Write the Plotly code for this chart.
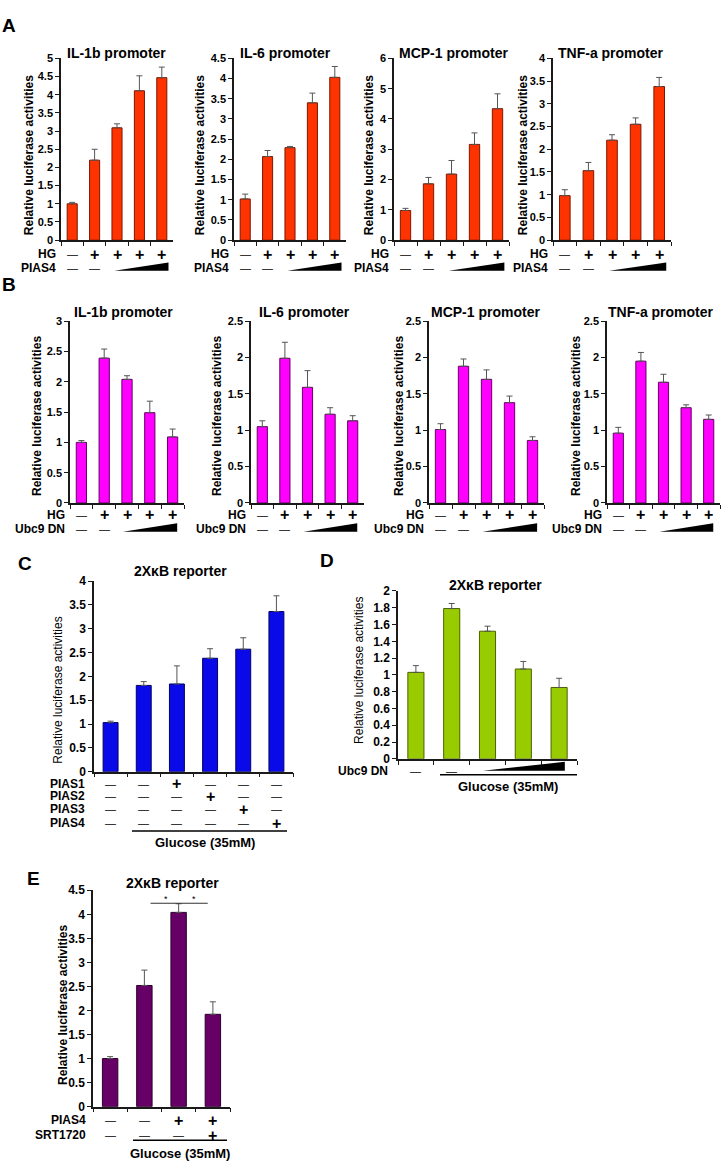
import plotly.graph_objects as go

W, H = 722, 1167

# ---------------- data ----------------
cats5 = ["1", "2", "3", "4", "5"]
cats6 = ["1", "2", "3", "4", "5", "6"]
cats4 = ["1", "2", "3", "4"]

A_titles = ["IL-1b promoter", "IL-6 promoter", "MCP-1 promoter", "TNF-a promoter"]
A_il1b = [1.00, 2.20, 3.09, 4.11, 4.47]
A_il1b_err = [0.04, 0.30, 0.11, 0.41, 0.29]
A_il6 = [1.02, 2.07, 2.29, 3.40, 4.03]
A_il6_err = [0.12, 0.15, 0.03, 0.24, 0.27]
A_mcp1 = [0.98, 1.86, 2.18, 3.16, 4.34]
A_mcp1_err = [0.07, 0.21, 0.45, 0.38, 0.49]
A_tnfa = [0.98, 1.53, 2.20, 2.55, 3.38]
A_tnfa_err = [0.13, 0.18, 0.12, 0.14, 0.20]
A_ymax = [5, 4.5, 6, 4]
A_dtick = [0.5, 0.5, 1, 0.5]

B_titles = ["IL-1b promoter", "IL-6 promoter", "MCP-1 promoter", "TNF-a promoter"]
B_il1b = [1.00, 2.39, 2.04, 1.49, 1.09]
B_il1b_err = [0.03, 0.15, 0.06, 0.19, 0.13]
B_il6 = [1.05, 1.99, 1.59, 1.22, 1.13]
B_il6_err = [0.08, 0.22, 0.23, 0.09, 0.07]
B_mcp1 = [1.01, 1.88, 1.70, 1.38, 0.86]
B_mcp1_err = [0.08, 0.10, 0.13, 0.09, 0.05]
B_tnfa = [0.96, 1.95, 1.66, 1.31, 1.15]
B_tnfa_err = [0.08, 0.12, 0.11, 0.04, 0.06]
B_ymax = [3, 2.5, 2.5, 2.5]
B_dtick = [0.5, 0.5, 0.5, 0.5]

HG_signs = ["—", "+", "+", "+", "+"]
dose_signs = ["—", "—", "", "", ""]

C_title = "2XκB reporter"
C_vals = [1.03, 1.81, 1.84, 2.38, 2.57, 3.36]
C_err = [0.03, 0.08, 0.38, 0.20, 0.24, 0.33]
C_rows = ["PIAS1", "PIAS2", "PIAS3", "PIAS4"]
C_signs = [["—", "—", "+", "—", "—", "—"],
           ["—", "—", "—", "+", "—", "—"],
           ["—", "—", "—", "—", "+", "—"],
           ["—", "—", "—", "—", "—", "+"]]

D_title = "2XκB reporter"
D_vals = [1.03, 1.79, 1.52, 1.07, 0.85]
D_err = [0.08, 0.06, 0.06, 0.09, 0.11]
D_signs = ["—", "—", "", "", ""]

E_title = "2XκB reporter"
E_vals = [1.00, 2.52, 4.04, 1.92]
E_err = [0.04, 0.32, 0.18, 0.26]
E_rows = ["PIAS4", "SRT1720"]
E_signs = [["—", "—", "+", "+"],
           ["—", "—", "—", "+"]]

glucose_label = "Glucose (35mM)"
ytitle = "Relative luciferase activities"

# ---------------- helpers ----------------
FONT = "Liberation Sans, Arial, sans-serif"
AXC = "#1a1a1a"
fig = go.Figure()
annotations = []
shapes = []


def px_x(p):
    return p / W


def px_y(p):
    return 1 - p / H


def names(i):
    s = "" if i == 1 else str(i)
    return "x" + s, "y" + s, "xaxis" + s, "yaxis" + s


def text(x, y, t, size=12, bold=True, xanchor="center", xref="paper", yref="paper", angle=0):
    annotations.append(dict(
        x=x, y=y, xref=xref, yref=yref, text=t, showarrow=False,
        xanchor=xanchor, yanchor="middle", textangle=angle,
        font=dict(family=FONT, size=size, color="black",
                  weight="bold" if bold else "normal")))


def add_panel(i, cats, vals, errs, box, ymax, dtick, fill, edge, tsize=11):
    xr, yr, xk, yk = names(i)
    x0, x1, ytop, ybot = box
    fig.add_trace(go.Bar(
        x=cats, y=vals, xaxis=xr, yaxis=yr, width=0.45,
        marker=dict(color=fill, line=dict(color=edge, width=1)),
        error_y=dict(type="data", symmetric=False, array=errs,
                     arrayminus=[0] * len(errs), color="#555555",
                     thickness=1, width=3),
        showlegend=False, hoverinfo="skip"))
    fig.update_layout(**{
        xk: dict(domain=[px_x(x0), px_x(x1)], anchor=yr, type="category",
                 range=[-0.5, len(cats) - 0.5], showline=True, linecolor=AXC,
                 linewidth=1.5, ticks="outside", tickson="boundaries",
                 ticklen=4, tickcolor=AXC, tickwidth=1.2,
                 showticklabels=False, showgrid=False, zeroline=False,
                 fixedrange=True),
        yk: dict(domain=[px_y(ybot), px_y(ytop)], anchor=xr,
                 range=[0, ymax], dtick=dtick, tick0=0, showline=True,
                 linecolor=AXC, linewidth=1.5, ticks="outside", ticklen=4,
                 tickcolor=AXC, tickwidth=1.2, showgrid=False, zeroline=False,
                 tickfont=dict(family=FONT, size=tsize, color="black",
                               weight="bold"),
                 fixedrange=True),
    })


def add_row(i, cats, label, signs, y_px, label_right):
    xr = names(i)[0]
    text(px_x(label_right), px_y(y_px), label, size=12, xanchor="right")
    for k, s in enumerate(signs):
        if not s:
            continue
        if s == "+":
            text(k, px_y(y_px), "+", size=16, bold=True, xref=xr)
        else:
            text(k, px_y(y_px), "—", size=11, bold=False, xref=xr)


def add_ramp(i, c0, c1, y_bot, y_top):
    xr = names(i)[0]
    shapes.append(dict(
        type="path", xref=xr, yref="paper",
        path=f"M {c0},{px_y(y_bot)} L {c1},{px_y(y_bot)} L {c1},{px_y(y_top)} Z",
        fillcolor="black", line=dict(width=0)))


def hline(x0, x1, y, width=1.5):
    shapes.append(dict(type="line", xref="paper", yref="paper",
                       x0=px_x(x0), x1=px_x(x1), y0=px_y(y), y1=px_y(y),
                       line=dict(color="black", width=width)))


# ---------------- panel A ----------------
A_vals = [A_il1b, A_il6, A_mcp1, A_tnfa]
A_errs = [A_il1b_err, A_il6_err, A_mcp1_err, A_tnfa_err]
A_boxes = [(61, 173, 52, 236), (234, 346, 52, 236), (394, 509, 52, 236), (553, 671, 52, 236)]
A_tx = [116, 285, 453, 611]
A_yx = [29, 200, 369, 523]
for k in range(4):
    i = k + 1
    add_panel(i, cats5, A_vals[k], A_errs[k], A_boxes[k], A_ymax[k], A_dtick[k],
              "#FF3300", "#7a1800")
    text(px_x(A_tx[k]), px_y(47), A_titles[k], size=14)
    text(px_x(A_yx[k]), px_y(150), ytitle, size=12, angle=-90)
    ax = A_boxes[k][0]
    add_row(i, cats5, "HG", HG_signs, 250, ax - 3)
    add_row(i, cats5, "PIAS4", dose_signs, 264, ax - 3)
    add_ramp(i, 1.88, 4.3, 267, 258.5)

# ---------------- panel B ----------------
B_vals = [B_il1b, B_il6, B_mcp1, B_tnfa]
B_errs = [B_il1b_err, B_il6_err, B_mcp1_err, B_tnfa_err]
B_boxes = [(70, 184, 318, 502), (251, 364, 318, 502), (429, 544, 318, 502), (607, 720, 318, 502)]
B_tx = [123, 304, 485, 661]
B_yx = [37, 217, 399, 576]
for k in range(4):
    i = k + 5
    add_panel(i, cats5, B_vals[k], B_errs[k], B_boxes[k], B_ymax[k], B_dtick[k],
              "#FF00FF", "#660066")
    text(px_x(B_tx[k]), px_y(309), B_titles[k], size=14)
    text(px_x(B_yx[k]), px_y(414), ytitle, size=12, angle=-90)
    ax = B_boxes[k][0]
    add_row(i, cats5, "HG", HG_signs, 514, ax - 3)
    add_row(i, cats5, "Ubc9 DN", dose_signs, 528, ax - 3)
    add_ramp(i, 1.82, 4.2, 531, 522.5)

# ---------------- panel C ----------------
add_panel(9, cats6, C_vals, C_err, (94, 293, 581, 774), 4, 0.5, "#0A0AE8", "#000066", tsize=12)
text(px_x(180), px_y(571), C_title, size=14)
text(px_x(58), px_y(692), ytitle, size=12, bold=False, angle=-90)
for r, (lab, sg) in enumerate(zip(C_rows, C_signs)):
    add_row(9, cats6, lab, sg, [786, 799, 812, 826][r], 87)
hline(132, 287, 834)
text(px_x(205), px_y(846), glucose_label, size=13)

# ---------------- panel D ----------------
add_panel(10, cats5, D_vals, D_err, (398, 577, 591, 761), 2, 0.2, "#99CC00", "#4a6200", tsize=12)
text(px_x(495), px_y(585), D_title, size=14)
text(px_x(359), px_y(672), ytitle, size=12, bold=False, angle=-90)
add_row(10, cats5, "Ubc9 DN", D_signs, 773, 390)
add_ramp(10, 1.87, 4.16, 773, 764)
hline(440, 577, 777)
text(px_x(508), px_y(789), glucose_label, size=13)

# ---------------- panel E ----------------
add_panel(11, cats4, E_vals, E_err, (93, 230, 894, 1113), 4.5, 0.5, "#660066", "#2a002a", tsize=12)
text(px_x(172), px_y(887), E_title, size=14)
text(px_x(63), px_y(1010), ytitle, size=12, angle=-90)
for r, (lab, sg) in enumerate(zip(E_rows, E_signs)):
    add_row(11, cats4, lab, sg, [1127, 1142][r], 88)
hline(133, 227, 1147)
text(px_x(180), px_y(1160), glucose_label, size=13)
# significance bracket
shapes.append(dict(type="line", xref="x11", yref="y11", x0=1.18, x1=2.85, y0=4.23, y1=4.23,
                   line=dict(color="#333333", width=1)))
text(1.62, 4.31, "*", size=9, bold=False, xref="x11", yref="y11")
text(2.44, 4.31, "*", size=9, bold=False, xref="x11", yref="y11")

# ---------------- panel letters ----------------
for lab, (lx, ly) in zip(["A", "B", "C", "D", "E"],
                         [(9, 19), (9, 281), (25, 563), (327, 560), (33, 882)]):
    text(px_x(lx), px_y(ly), lab, size=19)

fig.update_layout(
    width=W, height=H, margin=dict(l=0, r=0, t=0, b=0),
    paper_bgcolor="white", plot_bgcolor="white",
    annotations=annotations, shapes=shapes,
    font=dict(family=FONT, color="black"),
)

fig.write_html("out.html", config={"displayModeBar": False},
               post_script="document.body.style.margin='0';document.body.style.overflow='hidden';")
